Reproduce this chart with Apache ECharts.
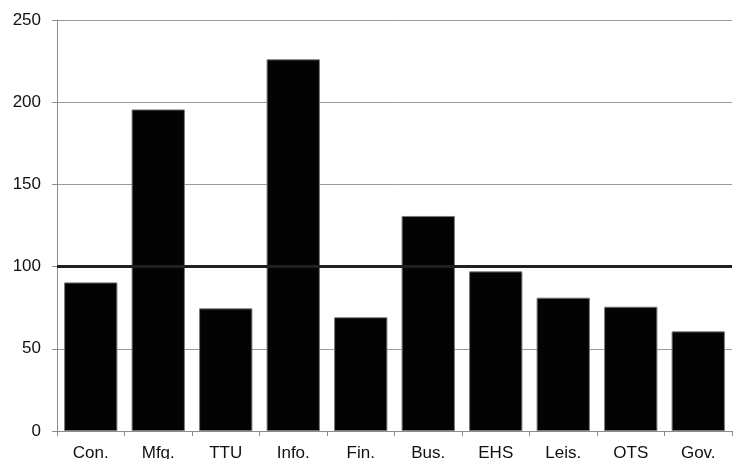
<!DOCTYPE html>
<html>
<head>
<meta charset="utf-8">
<script src="https://cdn.jsdelivr.net/npm/echarts@6/dist/echarts.min.js"></script>
<style>html,body{margin:0;padding:0;background:#fff;}#c{width:738px;height:459px;}</style>
</head>
<body>
<div id="c"></div>
<script>
const categories = ['Con.', 'Mfg.', 'TTU', 'Info.', 'Fin.', 'Bus.', 'EHS', 'Leis.', 'OTS', 'Gov.'];
const values = [90.4, 195.6, 74.6, 226.1, 69.2, 130.8, 97.1, 81.1, 75.6, 60.6];
const referenceLine = 100;
const yMin = 0, yMax = 250, yInterval = 50;

const chart = echarts.init(document.getElementById('c'), null, {renderer: 'canvas'});
chart.setOption({
  animation: false,
  backgroundColor: '#ffffff',
  grid: {left: 57, right: 6, top: 20, bottom: 28, containLabel: false, outerBoundsMode: 'none'},
  xAxis: {
    type: 'category',
    data: categories,
    boundaryGap: true,
    axisLine: {show: true, lineStyle: {color: '#8c8c8c', width: 1}},
    axisTick: {show: true, length: 5, alignWithLabel: false, lineStyle: {color: '#8c8c8c'}},
    axisLabel: {color: '#111', fontFamily: 'Liberation Sans, Arial, sans-serif', fontSize: 17, margin: 14, interval: 0},
    splitLine: {show: false}
  },
  yAxis: {
    type: 'value',
    min: yMin, max: yMax, interval: yInterval,
    axisLine: {show: true, lineStyle: {color: '#8c8c8c', width: 1}},
    axisTick: {show: true, length: 5, lineStyle: {color: '#8c8c8c'}},
    axisLabel: {color: '#111', fontFamily: 'Liberation Sans, Arial, sans-serif', fontSize: 17, margin: 16},
    splitLine: {show: true, lineStyle: {color: '#9a9a9a', width: 1}}
  },
  series: [{
    type: 'bar',
    data: values,
    barCategoryGap: '21%',
    itemStyle: {color: '#030303', borderColor: '#7a7a7a', borderWidth: 1},
    markLine: {
      silent: true,
      symbol: ['none', 'none'],
      label: {show: false},
      lineStyle: {color: '#231f20', width: 3, type: 'solid'},
      data: [{yAxis: referenceLine}]
    },
    z: 2
  }]
});
</script>
</body>
</html>
